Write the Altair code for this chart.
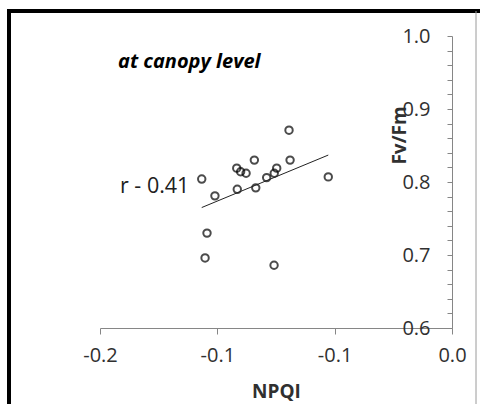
import altair as alt
import pandas as pd

# Data
npqi = [-0.1422, -0.1347, -0.1392, -0.1403, -0.1223, -0.1201, -0.1170, -0.1220,
        -0.1123, -0.1115, -0.1053, -0.1010, -0.0996, -0.0926, -0.0920, -0.0703, -0.1011]
fvfm = [0.804, 0.781, 0.730, 0.696, 0.819, 0.814, 0.812, 0.790,
        0.830, 0.792, 0.806, 0.812, 0.819, 0.871, 0.830, 0.807, 0.686]
x_ticks = [-0.2, -0.1333, -0.0667, 0.0]
y_ticks = [0.6, 0.62, 0.64, 0.66, 0.68, 0.7, 0.72, 0.74, 0.76, 0.78, 0.8,
           0.82, 0.84, 0.86, 0.88, 0.9, 0.92, 0.94, 0.96, 0.98, 1.0]
label_main = "at canopy level"
label_r = "r - 0.41"

W, H = 352, 292
FONT = "Open Sans"

df = pd.DataFrame({"x": npqi, "y": fvfm})
one = pd.DataFrame({"a": [0]})

xenc = alt.X("x:Q", scale=alt.Scale(domain=[-0.2, 0.0], nice=False, zero=False),
             axis=alt.Axis(title="NPQI", values=x_ticks, tickCount=50,
                           labelExpr="replace(format(datum.value, '.1f'), '\u2212', '-')",
                           grid=False, labelFlush=False, labelOverlap=False,
                           domainColor="#868686", tickColor="#868686", tickSize=6,
                           labelPadding=11, labelFont=FONT, labelFontSize=20,
                           labelColor="#303030", titleFont=FONT, titleFontSize=19,
                           titleFontWeight="bold", titleColor="#303030",
                           titleBaseline="alphabetic", titleY=69))
yenc = alt.Y("y:Q", scale=alt.Scale(domain=[0.6, 1.0], nice=False, zero=False),
             axis=alt.Axis(title="Fv/Fm", orient="left", offset=-W, values=y_ticks,
                           tickCount=50, labelOverlap=False, labelFlush=False,
                           labelExpr="(round(datum.value*100) % 10 == 0) ? format(datum.value, '.1f') : ''",
                           grid=False, domainColor="#868686", tickColor="#868686",
                           tickSize=5, labelPadding=17, labelFont=FONT, labelFontSize=20,
                           labelColor="#303030", labelBaseline="middle",
                           titleFont=FONT, titleFontSize=19, titleFontWeight="bold",
                           titleColor="#303030", titleAngle=-90, titleAlign="center",
                           titleBaseline="alphabetic", titleX=-47, titleY=99))

base = alt.Chart(df)
points = base.mark_point(shape="circle", filled=False, stroke="black",
                         strokeWidth=2, size=55).encode(x=xenc, y=yenc)
trend = base.transform_regression("x", "y").mark_line(
    color="#222222", strokeWidth=1).encode(x="x:Q", y="y:Q")

t1 = alt.Chart(one).mark_text(text=label_main, font=FONT, fontSize=20,
                              fontWeight="bold", fontStyle="italic",
                              align="left", baseline="middle", color="black").encode(
    x=alt.value(18), y=alt.value(26))
t2 = alt.Chart(one).mark_text(text=label_r, font=FONT, fontSize=21.5,
                              align="left", baseline="middle", color="#202020").encode(
    x=alt.value(20), y=alt.value(151))

frame_top = alt.Chart(one).mark_rule(color="black", strokeWidth=4).encode(
    x=alt.value(-93), x2=alt.value(380), y=alt.value(-25))
frame_left = alt.Chart(one).mark_rule(color="black", strokeWidth=4).encode(
    x=alt.value(-91), y=alt.value(-27), y2=alt.value(368))
frame_right = alt.Chart(one).mark_rule(color="#9a9a9a", strokeWidth=1).encode(
    x=alt.value(376), y=alt.value(-25), y2=alt.value(368))

chart = alt.layer(points, trend, t1, t2, frame_top, frame_left, frame_right).properties(
    width=W, height=H,
    autosize=alt.AutoSizeParams(type="none"),
    padding={"left": 100, "top": 36, "right": 28, "bottom": 76},
    background="white",
).configure_view(stroke=None)

chart.save("out.html", embed_options={"renderer": "svg", "actions": False})
